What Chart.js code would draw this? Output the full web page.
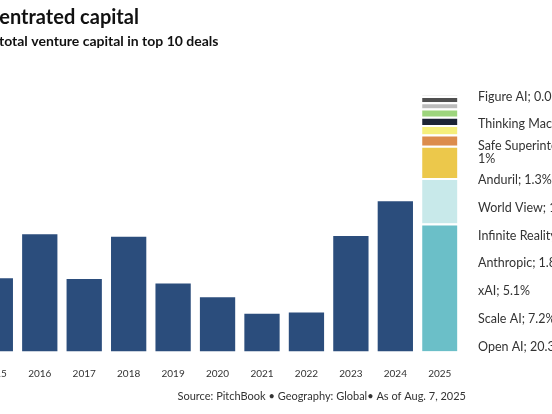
<!DOCTYPE html>
<html>
<head>
<meta charset="utf-8">
<script src="https://cdn.jsdelivr.net/npm/chart.js@4"></script>
<style>
  html, body { margin: 0; padding: 0; background: #fff; overflow: hidden; width: 552px; height: 414px; }
  /* the picture is a crop, so the chart is wider than the window and shifted left */
  .wrap { position: absolute; left: -80px; top: 0; width: 700px; height: 414px; }
</style>
</head>
<body>
<div class="wrap"><canvas id="vcChart"></canvas></div>
<script>
  const years = ["2015", "2016", "2017", "2018", "2019", "2020", "2021", "2022", "2023", "2024", "2025"];
  // share of total VC in top 10 deals, 2015-2024 (%)
  const topDealShare = [11.6, 18.6, 11.5, 18.2, 10.8, 8.6, 6.0, 6.2, 18.3, 23.8, null];
  // 2025 breakdown by company, bottom to top
  const companies2025 = [
    "Open AI",
    "Scale AI",
    "xAI",
    "Anthropic",
    "Infinite Reality",
    "World View",
    "Anduril",
    "Safe Superintelligence",
    "Thinking Machines",
    "Figure AI",
  ];
  const companyShare2025 = [20.3, 7.2, 5.1, 1.8, 1.5, 1.3, 1.3, 1, 1, 0.05];

  const companyColors = [
    "#6bbfc8",
    "#c8e9ea",
    "#ecc84b",
    "#dc8c4c",
    "#f5ef7b",
    "#1c2535",
    "#9dd57d",
    "#bcbcbc",
    "#4f4f4f",
    "#8a8a8a",
  ];

  Chart.defaults.font.family = "Lato";
  Chart.defaults.color = "#333";

  const datasets = [
    {
      label: "Top 10 deals",
      data: topDealShare,
      backgroundColor: "#2b4d7c",
    },
  ];
  companies2025.forEach((name, i) => {
    datasets.push({
      label: name,
      data: years.map((y, j) => (j === years.length - 1 ? companyShare2025[i] : null)),
      backgroundColor: companyColors[i],
      borderColor: "#fff",
      borderWidth: { top: 2, right: 0, bottom: 0, left: 0 },
    });
  });

  // Subtitle drawn by hand so it can start a bit left of the title
  const subtitleText = {
    id: "subtitleText",
    afterDraw(chart) {
      const { ctx } = chart;
      ctx.save();
      ctx.font = "bold 14px Lato";
      ctx.fillStyle = "#111";
      ctx.textAlign = "left";
      ctx.textBaseline = "middle";
      const lead = "Share of ";
      ctx.fillText(lead + "total venture capital in top 10 deals", 79 - ctx.measureText(lead).width, 41.4);
      ctx.restore();
    },
  };

  // Company labels to the right of the 2025 bar
  const sideLabels = {
    id: "sideLabels",
    afterDatasetsDraw(chart) {
      const { ctx, chartArea, scales } = chart;
      const total = companyShare2025.reduce((a, b) => a + b, 0);
      const yBottom = scales.y.getPixelForValue(0) - 5;
      const yTop = scales.y.getPixelForValue(total) + 1;
      const step = (yBottom - yTop) / (companies2025.length - 1);
      const x = chartArea.right + 16;
      ctx.save();
      ctx.font = "12.5px Lato";
      ctx.fillStyle = "#333";
      ctx.textAlign = "left";
      ctx.textBaseline = "middle";
      companies2025.forEach((name, i) => {
        const text = name + "; " + companyShare2025[i] + "%";
        const y = yBottom - step * i;
        if (ctx.measureText(text).width > 135) {
          const cut = text.lastIndexOf(" ");
          ctx.fillText(text.slice(0, cut), x, y - 6.5);
          ctx.fillText(text.slice(cut + 1), x, y + 6.5);
        } else {
          ctx.fillText(text, x, y);
        }
      });
      ctx.restore();
    },
  };

  // Source line under the axis
  const sourceNote = {
    id: "sourceNote",
    afterDraw(chart) {
      const { ctx, chartArea } = chart;
      ctx.save();
      ctx.font = "11px Lato";
      ctx.fillStyle = "#333";
      ctx.textAlign = "right";
      ctx.textBaseline = "middle";
      ctx.fillText("Source: PitchBook \u2022 Geography: Global\u2022 As of Aug. 7, 2025", chartArea.right + 4, 396);
      ctx.restore();
    },
  };

  const ctx = document.getElementById("vcChart").getContext("2d");
  const vcChart = new Chart(ctx, {
    type: "bar",
    data: {
      labels: years,
      datasets: datasets,
    },
    options: {
      responsive: true,
      maintainAspectRatio: false,
      animation: false,
      layout: {
        padding: { left: 34, right: 158, top: 0, bottom: 18.4 },
      },
      datasets: {
        bar: { barPercentage: 0.794, categoryPercentage: 1 },
      },
      plugins: {
        legend: { display: false },
        tooltip: { enabled: false },
        title: {
          display: true,
          text: "Concentrated capital",
          align: "start",
          color: "#111",
          font: { size: 20, weight: "bold" },
          padding: { top: 6, bottom: 37.5 },
        },
      },
      scales: {
        x: {
          stacked: true,
          grid: { display: false, drawTicks: false },
          border: { display: false },
          ticks: { font: { size: 10 }, padding: 16, maxRotation: 0, autoSkip: false },
        },
        y: {
          stacked: true,
          min: 0,
          max: 45,
          grid: { display: false, drawTicks: false },
          border: { display: false },
          ticks: { display: false },
          afterFit(scale) {
            scale.width = 19.1;
          },
        },
      },
    },
    plugins: [subtitleText, sideLabels, sourceNote],
  });
</script>
</body>
</html>
